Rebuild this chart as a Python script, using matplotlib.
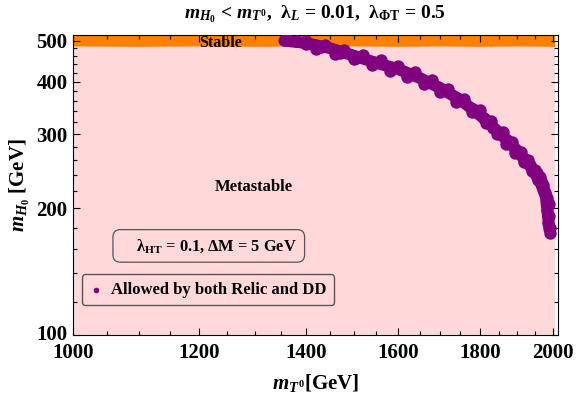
import matplotlib
matplotlib.use('Agg')
from matplotlib import pyplot as plt
from matplotlib import ticker
from matplotlib.transforms import ScaledTranslation

plt.rcParams['font.family'] = ['Liberation Serif', 'DejaVu Serif']
plt.rcParams['font.weight'] = 'bold'
plt.rcParams['axes.titleweight'] = 'bold'
plt.rcParams['axes.labelweight'] = 'bold'
plt.rcParams['mathtext.fontset'] = 'custom'
plt.rcParams['mathtext.rm'] = 'Liberation Serif:bold'
plt.rcParams['mathtext.it'] = 'Liberation Serif:italic:bold'
plt.rcParams['mathtext.bf'] = 'Liberation Serif:bold'

# purple band: centre line of the allowed region
mt_band = [1357, 1400, 1450, 1500, 1550, 1600, 1650, 1700, 1750, 1800,
           1850, 1900, 1940, 1965, 1980, 1985, 1990]
mh_band = [500, 494, 480, 461, 443, 428, 408, 386, 362, 333,
           303, 274, 249, 230, 213, 195, 178]

# individual allowed points (ragged edges of the band)
mt_allowed = [1358, 1362, 1380, 1400, 1400, 1420, 1430, 1440, 1460, 1470, 1480, 1500,
              1505, 1520, 1540, 1542, 1560, 1580, 1580, 1600, 1620, 1620, 1640, 1660,
              1660, 1680, 1699, 1700, 1720, 1740, 1740, 1760, 1780, 1782, 1800, 1810,
              1815, 1830, 1834, 1845, 1855, 1860, 1870, 1872, 1885, 1895, 1895, 1910,
              1916, 1918, 1930, 1935, 1940, 1950, 1954, 1958, 1962, 1965, 1971, 1972,
              1975, 1978, 1978, 1983, 1983, 1988, 1986, 1990, 1992, 1993]
mh_allowed = [503, 505, 498, 492, 500, 478, 482, 488, 465, 468, 475, 452,
              456, 463, 438, 444, 449, 431, 424, 436, 418, 410, 421, 402,
              394, 404, 385, 377, 385, 366, 358, 364, 338, 345, 342, 328,
              318, 323, 311, 300, 300, 303, 285, 290, 288, 277, 271, 272,
              264, 257, 260, 253, 245, 247, 242, 233, 237, 232, 224, 227,
              220, 217, 218, 212, 198, 205, 185, 192, 175, 180]

# stable region (orange strip at the top)
mt_stable = [1000, 1100, 1200, 1300, 1400, 1500, 1600, 1700, 1800, 1900, 2005]
mh_stable_low = [486, 485, 486, 485, 486, 486, 485, 486, 485, 486, 485]
mh_top = 520

fig = plt.figure(figsize=(5.76, 3.99), dpi=100)
ax = fig.add_axes([0.1267, 0.1604, 0.842, 0.7519])
ax.set_xscale('log')
ax.set_yscale('log')
ax.set_xlim(1000, 2015)
ax.set_ylim(100, 516)

# metastable background
ax.fill_between([1000, 2005], [100, 100], [mh_top, mh_top], color='#FFD9DA', lw=0, zorder=0)
ax.fill_between(mt_stable, mh_stable_low, [mh_top] * len(mt_stable), color='#FF8000', lw=0, zorder=1)
ax.plot(mt_band, mh_band, color='#800080', lw=8.5, solid_capstyle='round',
        solid_joinstyle='round', zorder=3)
ax.scatter(mt_allowed, mh_allowed, s=80, color='#800080', lw=0, zorder=3,
           label='Allowed by both Relic and DD')

ax.text(1237, 493, 'Stable', fontsize=11.5, fontweight='bold', ha='center', va='center', zorder=4)
ax.text(1299, 225, 'Metastable', fontsize=12, fontweight='bold', ha='center', va='center', zorder=4)

ax.text(0.28, 0.297, r'    λ$_{\mathrm{HT}}$ = 0.1, ΔM = 5 GeV', transform=ax.transAxes,
        fontsize=11.8, fontweight='bold', ha='center', va='center', zorder=5,
        bbox=dict(boxstyle='round,pad=0.45', fc='#FFD9DA', ec='#555555', lw=0.9))

leg = ax.legend(loc='center', bbox_to_anchor=(0.278, 0.15), frameon=True,
                fancybox=True, handletextpad=0.5, borderpad=0.45, markerscale=0.45,
                handlelength=0.8, prop={'weight': 'bold', 'size': 12})
leg.get_frame().set_facecolor('#FFD9DA')
leg.get_frame().set_edgecolor('#555555')
leg.get_frame().set_alpha(1)

ax.xaxis.set_major_locator(ticker.FixedLocator([1000, 1200, 1400, 1600, 1800, 2000]))
ax.xaxis.set_minor_locator(ticker.MultipleLocator(50))
ax.xaxis.set_major_formatter(ticker.FormatStrFormatter('%d'))
ax.xaxis.set_minor_formatter(ticker.NullFormatter())
ax.yaxis.set_major_locator(ticker.FixedLocator([100, 200, 300, 400, 500]))
ax.yaxis.set_minor_locator(ticker.MultipleLocator(20))
ax.yaxis.set_major_formatter(ticker.FormatStrFormatter('%d'))
ax.yaxis.set_minor_formatter(ticker.NullFormatter())
ax.tick_params(which='both', direction='in', top=True, right=True, labelsize=15, width=0.8)
ax.tick_params(which='major', length=5)
ax.tick_params(which='minor', length=3)
ax.tick_params(axis='x', pad=6)
ax.tick_params(axis='y', pad=4)
for lab in ax.get_xticklabels() + ax.get_yticklabels():
    lab.set_fontweight('bold')

# lift the bottom y label a little so it does not run into "1000"
lab100 = ax.get_yticklabels()[0]
lab100.set_transform(lab100.get_transform() + ScaledTranslation(0, 3 / 100, fig.dpi_scale_trans))

ax.set_xlabel(r'$m_{T^0}$[GeV]', fontsize=15, fontweight='bold', labelpad=6)
ax.set_ylabel(r'$m_{H_0}$ [GeV]', fontsize=15, fontweight='bold', labelpad=3)
ax.set_title(r'$m_{H_0}$ < $m_{T^0}$,  λ$_L$ = 0.01,  λ$_{\mathrm{\Phi T}}$ = 0.5',
             fontsize=14, fontweight='bold', pad=12)

fig.savefig('out.png', dpi=100)
